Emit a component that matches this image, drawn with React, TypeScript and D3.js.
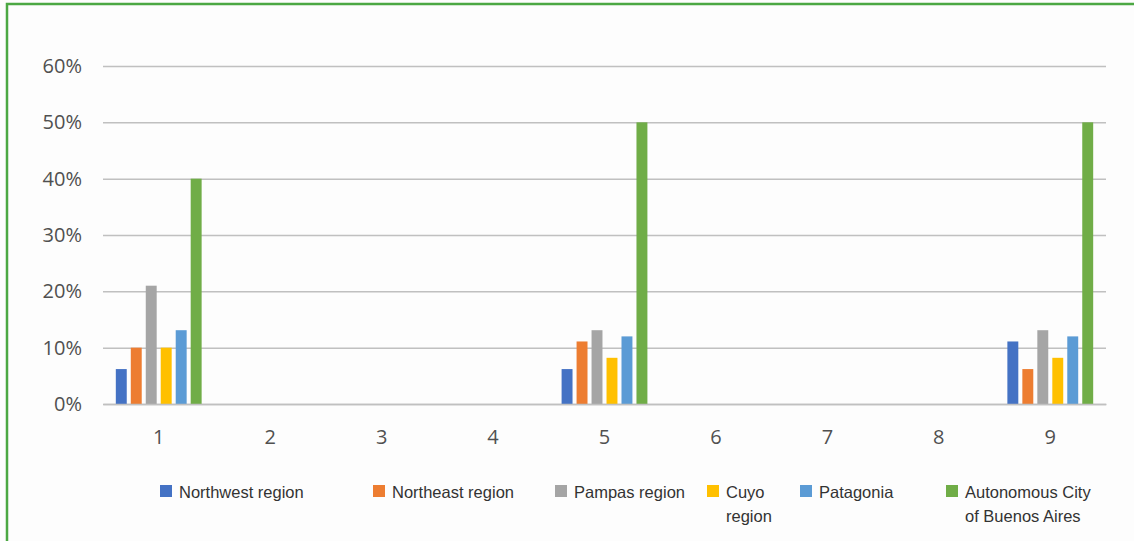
import * as d3 from 'd3'
import { useEffect, useRef } from 'react'

const width = 1134
const height = 541
const marginTop = 66
const marginLeft = 103
const plotRight = 1106
const plotBottom = 404

const categories = ['1', '2', '3', '4', '5', '6', '7', '8', '9']
const seriesNames = [
  'Northwest region',
  'Northeast region',
  'Pampas region',
  'Cuyo region',
  'Patagonia',
  'Autonomous City of Buenos Aires',
]
const legendLines = [
  ['Northwest region'],
  ['Northeast region'],
  ['Pampas region'],
  ['Cuyo', 'region'],
  ['Patagonia'],
  ['Autonomous City', 'of Buenos Aires'],
]
const legendX = [160, 373, 555, 707, 800, 946]
const colors = ['#4472C4', '#ED7D31', '#A5A5A5', '#FFC000', '#5B9BD5', '#70AD47']

// values per series, null = no bar for that category
const northwest = [0.062, null, null, null, 0.062, null, null, null, 0.111]
const northeast = [0.1, null, null, null, 0.111, null, null, null, 0.062]
const pampas = [0.21, null, null, null, 0.131, null, null, null, 0.131]
const cuyo = [0.1, null, null, null, 0.082, null, null, null, 0.082]
const patagonia = [0.131, null, null, null, 0.12, null, null, null, 0.12]
const caba = [0.4, null, null, null, 0.5, null, null, null, 0.5]
const seriesValues = [northwest, northeast, pampas, cuyo, patagonia, caba]

const yTicks = [0, 0.1, 0.2, 0.3, 0.4, 0.5, 0.6]

export default function App() {
  const ref = useRef(null)

  useEffect(() => {
    const svg = d3.select(ref.current)
    svg.selectAll('*').remove()

    svg.append('rect').attr('width', width).attr('height', height).attr('fill', '#fdfdfd')

    // green frame
    svg
      .append('path')
      .attr('d', `M7,${height} V4 H${width}`)
      .attr('fill', 'none')
      .attr('stroke', '#4CA843')
      .attr('stroke-width', 2.5)

    const x0 = d3.scaleBand(categories, [marginLeft, plotRight]).paddingInner(0.23).paddingOuter(0.115)
    const x1 = d3.scaleBand(d3.range(seriesNames.length), [0, x0.bandwidth()]).paddingInner(0.27)
    const y = d3.scaleLinear([0, 0.6], [plotBottom, marginTop])

    // gridlines + y labels
    const yAxis = svg
      .append('g')
      .attr('transform', `translate(${marginLeft},0)`)
      .call(
        d3
          .axisLeft(y)
          .tickValues(yTicks)
          .tickFormat(d3.format('.0%'))
          .tickSize(-(plotRight - marginLeft))
          .tickPadding(21)
      )
    yAxis.select('.domain').remove()
    yAxis.selectAll('.tick line').attr('stroke', '#C0C0C0').attr('stroke-width', 1.5)
    yAxis
      .selectAll('.tick text')
      .attr('fill', '#505050')
      .attr('font-size', 20)
      .attr('font-family', '"Open Sans", sans-serif')

    // bars
    seriesValues.forEach((vals, si) => {
      svg
        .append('g')
        .attr('fill', colors[si])
        .selectAll('rect')
        .data(categories.map((c, i) => ({ c, v: vals[i] })).filter(d => d.v !== null))
        .join('rect')
        .attr('x', d => (x0(d.c) ?? 0) + (x1(si) ?? 0))
        .attr('width', x1.bandwidth())
        .attr('y', d => y(d.v as number))
        .attr('height', d => plotBottom - y(d.v as number))
    })

    // x axis
    const xAxis = svg
      .append('g')
      .attr('transform', `translate(0,${plotBottom})`)
      .call(d3.axisBottom(x0).tickSize(0).tickPadding(26))
    xAxis.select('.domain').attr('stroke', '#C0C0C0').attr('stroke-width', 1.5)
    xAxis
      .selectAll('.tick text')
      .attr('fill', '#505050')
      .attr('font-size', 20)
      .attr('font-family', '"Open Sans", sans-serif')

    // legend
    const legend = svg.append('g')
    seriesNames.forEach((name, i) => {
      const g = legend.append('g').attr('transform', `translate(${legendX[i]},485)`).attr('aria-label', name)
      g.append('rect').attr('width', 12).attr('height', 12).attr('fill', colors[i])
      g.append('text')
        .attr('x', 19)
        .attr('y', 13)
        .attr('fill', '#333')
        .attr('font-size', 16.5)
        .attr('font-family', '"Liberation Sans", Arial, sans-serif')
        .selectAll('tspan')
        .data(legendLines[i])
        .join('tspan')
        .attr('x', 19)
        .attr('dy', (_, j) => (j === 0 ? 0 : 24))
        .text(d => d)
    })
  }, [])

  return (
    <svg
      ref={ref}
      width={width}
      height={height}
      viewBox={`0 0 ${width} ${height}`}
      style={{ position: 'absolute', left: 0, top: 0 }}
    ></svg>
  )
}
